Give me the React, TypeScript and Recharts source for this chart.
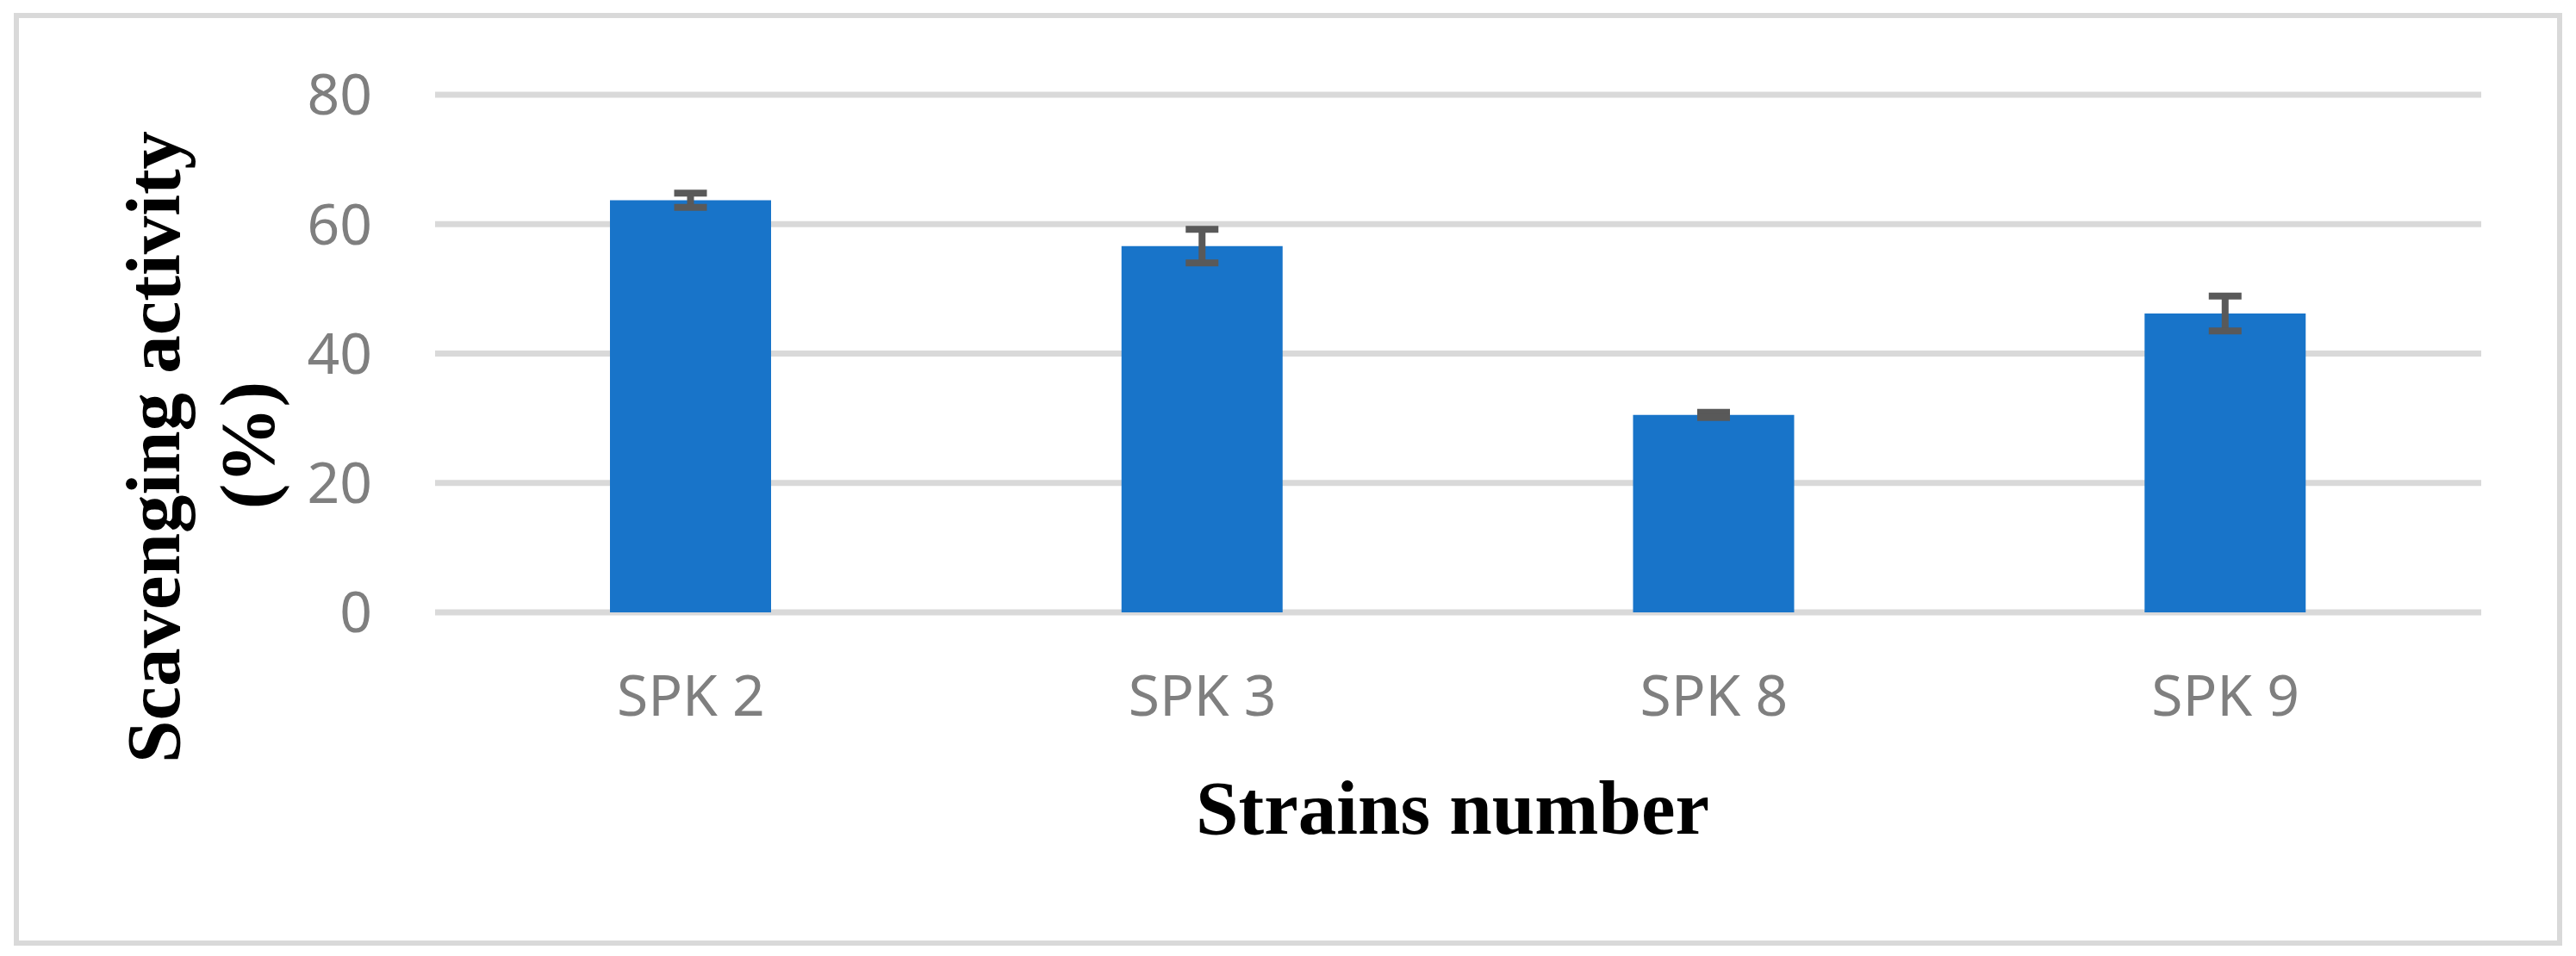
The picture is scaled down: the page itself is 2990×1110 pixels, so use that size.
import { BarChart, Bar, XAxis, YAxis, CartesianGrid, ErrorBar } from 'recharts';

const strains = ['SPK 2', 'SPK 3', 'SPK 8', 'SPK 9'];
const activity = [63.7, 56.6, 30.5, 46.2];
const activityErr = [1.1, 2.6, 0.4, 2.7];
const yTicks = [0, 20, 40, 60, 80];

const chartData = strains.map((name, i) => ({
  name,
  value: activity[i],
  err: activityErr[i],
}));

const tickStyle = { fill: '#7f7f7f', fontSize: 66, fontFamily: '"Noto Sans", sans-serif' };
const titleFont = '"Liberation Serif", "Times New Roman", serif';

export default function App() {
  return (
    <div style={{ position: 'relative', width: 2990, height: 1110, background: '#fff' }}>
      <style>{'body{margin:0}'}</style>
      <div
        style={{
          position: 'absolute',
          left: 16,
          top: 15,
          width: 2958,
          height: 1083,
          border: '6px solid #d9d9d9',
          boxSizing: 'border-box',
        }}
      />
      <BarChart
        width={2990}
        height={1110}
        data={chartData}
        margin={{ top: 110, right: 110, left: 0, bottom: 249 }}
      >
        <CartesianGrid vertical={false} stroke="#d9d9d9" strokeWidth={7} />
        <XAxis
          dataKey="name"
          tickLine={false}
          axisLine={false}
          tickSize={0}
          tickMargin={73}
          height={150}
          tick={tickStyle}
        />
        <YAxis
          domain={[0, 80]}
          ticks={yTicks}
          width={505}
          tickLine={false}
          axisLine={false}
          tickSize={0}
          tickMargin={73}
          tick={tickStyle}
        />
        <Bar dataKey="value" fill="#1874c9" barSize={187} isAnimationActive={false}>
          <ErrorBar
            dataKey="err"
            direction="y"
            width={19}
            strokeWidth={8}
            stroke="#595959"
            isAnimationActive={false}
          />
        </Bar>
      </BarChart>
      <svg
        width={2990}
        height={1110}
        style={{ position: 'absolute', left: 0, top: 0, pointerEvents: 'none' }}
      >
        <text
          transform="translate(208,519) rotate(-90)"
          textAnchor="middle"
          fontFamily={titleFont}
          fontWeight="bold"
          fontSize={89}
          fill="#000"
        >
          Scavenging activity
        </text>
        <text
          transform="translate(317,517) rotate(-90)"
          textAnchor="middle"
          fontFamily={titleFont}
          fontWeight="bold"
          fontSize={89}
          fill="#000"
        >
          (%)
        </text>
        <text
          x={1686}
          y={968}
          textAnchor="middle"
          fontFamily={titleFont}
          fontWeight="bold"
          fontSize={89}
          fill="#000"
        >
          Strains number
        </text>
      </svg>
    </div>
  );
}
